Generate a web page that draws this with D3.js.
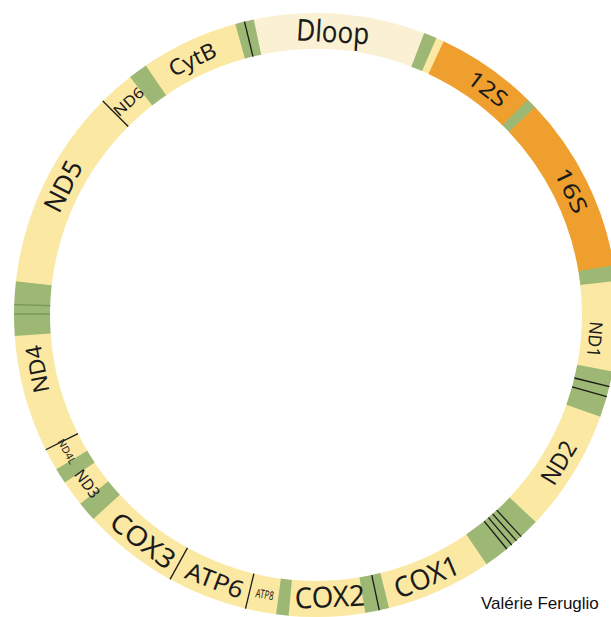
<!DOCTYPE html>
<html>
<head>
<meta charset="utf-8">
<script src="https://cdn.jsdelivr.net/npm/d3@7/dist/d3.min.js"></script>
<style>
  html, body { margin: 0; padding: 0; background: #fff; overflow: hidden; }
  svg { display: block; }
</style>
</head>
<body>
<svg id="chart" width="611" height="617"></svg>
<script>
// ---- data: segments of the circular mitochondrial genome (degrees clockwise from top) ----
const segNames = ["Dloop","tRNA","gap","12S","tRNA","16S","tRNA","ND1","tRNA","ND2","tRNA","COX1","tRNA","COX2","tRNA","ATP8","ATP6","COX3","tRNA","ND3","tRNA","ND4L","ND4","tRNA","ND5","ND6","tRNA","CytB","tRNA"];
const segKinds = ["dloop","trna","gene","rrna","trna","rrna","trna","gene","trna","gene","trna","gene","trna","gene","trna","gene","gene","gene","trna","gene","trna","gene","gene","trna","gene","gene","trna","gene","trna"];
const segStart = [-12,21,23.5,25,44.5,46.5,80.5,83.5,100.8,109.7,133.3,145.6,166,170.6,185.2,187.6,193.5,208.9,227.5,231.3,236.3,239.3,243.5,266,276.4,315.1,322,325.7,344.5];
const segEnd   = [21,23.5,25,44.5,46.5,80.5,83.5,100.8,109.7,133.3,145.6,166,170.6,185.2,187.6,193.5,208.9,227.5,231.3,236.3,239.3,243.5,266,276.4,315.1,322,325.7,344.5,348];

// separator lines (degrees) and their kind
const lineAngles = [-13.7,103.7,105.7,137.2,138.4,139.6,140.8,167.9,193.5,208.9,243.5,315.1,270.2,272];
const lineKinds  = ["black","black","black","black","black","black","black","black","black","black","black","black","dark","dark"];

// labels
const labelText  = ["Dloop","12S","16S","ND1","ND2","COX1","COX2","ATP8","ATP6","COX3","ND3","ND4L","ND4","ND5","ND6","CytB"];
const labelAngle = [3.4,37.2,64,95,121.3,157.1,177.2,190.4,200.9,217.5,233.6,241.3,259,297,318.7,334.2];
const labelSize  = [30,22,22,18,24,28,29,12,24,27,16,10,22,26,15,22];
const labelLen   = [73,44,48,36,46,68,70,18,60,74,31,27,48,54,35,50];
const labelRad   = [284,284,284,280,284,284,282,284,284,284,284,284,284,284,284,284];

const credit = "Valérie Feruglio";

// ---- layout ----
const cx = 316, cy = 315, outerR = 302, innerR = 266;
const colors = { dloop: "url(#dloopGrad)", trna: "#9db774", gene: "#fbe8a3", rrna: "#ef9f2e" };
const lineColors = { black: "#1a1a1a", dark: "#7c9a5a" };

const svg = d3.select("#chart");
const defs = svg.append("defs");
const grad = defs.append("linearGradient").attr("id", "dloopGrad")
  .attr("gradientUnits", "userSpaceOnUse").attr("x1", 250).attr("y1", 0).attr("x2", 420).attr("y2", 0);
grad.append("stop").attr("offset", 0).attr("stop-color", "#faf0d3");
grad.append("stop").attr("offset", 1).attr("stop-color", "#fdfaf0");

const ang = d3.scaleLinear().domain([0, 360]).range([0, 2 * Math.PI]);
const arc = d3.arc().innerRadius(innerR).outerRadius(outerR);

const g = svg.append("g").attr("transform", `translate(${cx},${cy})`);

const segs = segNames.map((n, i) => ({ name: n, kind: segKinds[i], s: segStart[i], e: segEnd[i] }));
g.selectAll("path.seg").data(segs).join("path")
  .attr("class", "seg")
  .attr("d", d => arc({ startAngle: ang(d.s), endAngle: ang(d.e) + 0.002 }))
  .attr("fill", d => colors[d.kind]);

const lines = lineAngles.map((a, i) => ({ a, kind: lineKinds[i] }));
g.selectAll("line.sep").data(lines).join("line")
  .attr("class", "sep")
  .attr("x1", d => innerR * Math.sin(ang(d.a)))
  .attr("y1", d => -innerR * Math.cos(ang(d.a)))
  .attr("x2", d => outerR * Math.sin(ang(d.a)))
  .attr("y2", d => -outerR * Math.cos(ang(d.a)))
  .attr("stroke", d => lineColors[d.kind])
  .attr("stroke-width", d => d.kind === "black" ? 1.3 : 1.6);

const labels = labelText.map((t, i) => ({ t, a: labelAngle[i], size: labelSize[i], len: labelLen[i], r: labelRad[i] }));
g.selectAll("text.lab").data(labels).join("text")
  .attr("class", "lab")
  .attr("transform", d => {
    const x = d.r * Math.sin(ang(d.a)), y = -d.r * Math.cos(ang(d.a));
    const rot = (d.a > 100 && d.a < 250) ? d.a - 180 : d.a;
    return `translate(${x},${y}) rotate(${rot})`;
  })
  .attr("text-anchor", "middle")
  .attr("dy", "0.36em")
  .attr("font-family", "'Noto Sans', sans-serif")
  .attr("font-size", d => d.size)
  .attr("textLength", d => d.len)
  .attr("lengthAdjust", "spacingAndGlyphs")
  .attr("fill", "#1b1b1b")
  .text(d => d.t);

svg.append("text")
  .attr("x", 481).attr("y", 609)
  .attr("font-family", "'Liberation Sans', Arial, sans-serif")
  .attr("font-size", 17)
  .attr("fill", "#111")
  .text(credit);
</script>
</body>
</html>
